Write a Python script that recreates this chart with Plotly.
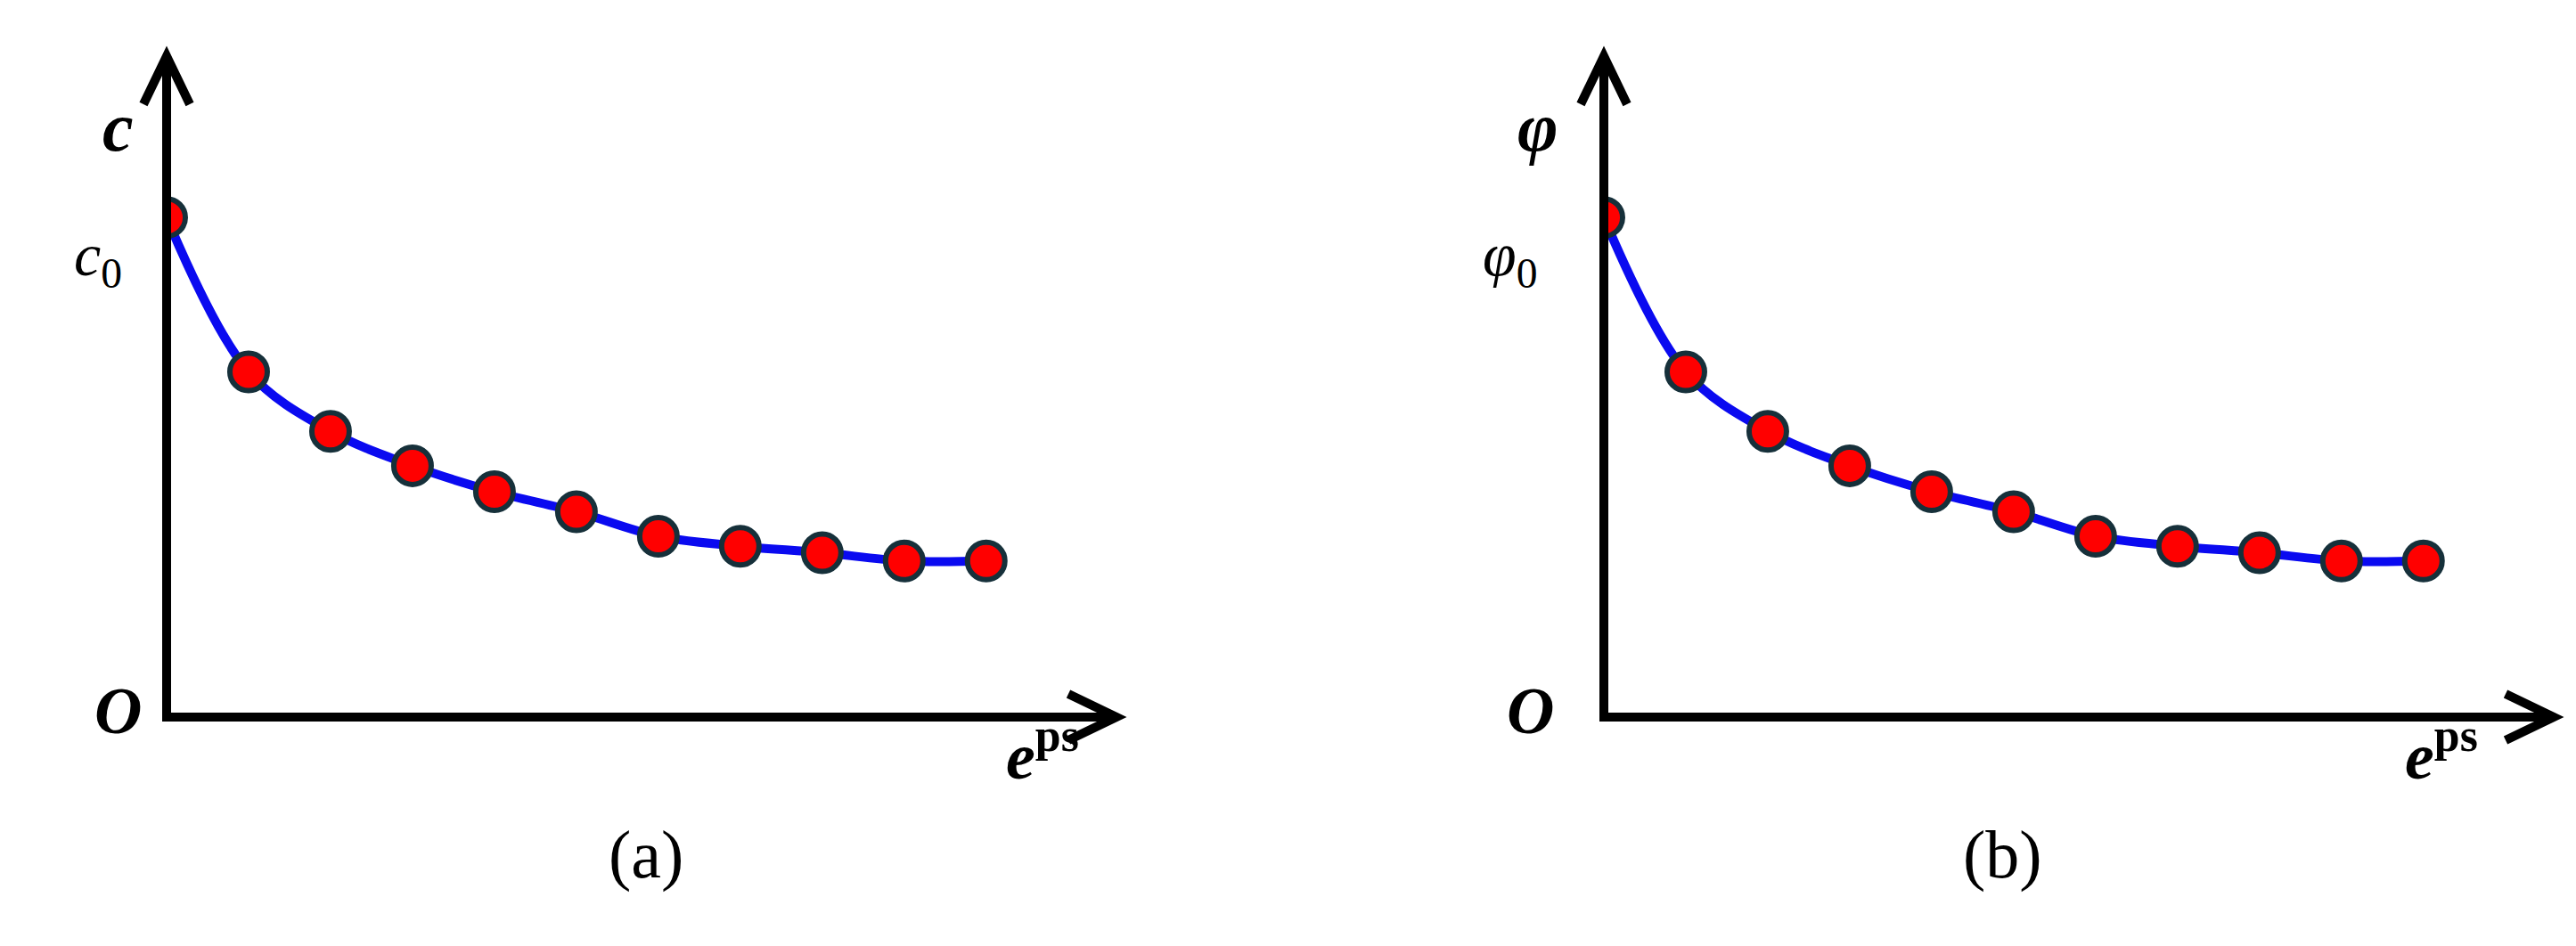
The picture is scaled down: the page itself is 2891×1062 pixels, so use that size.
import plotly.graph_objects as go

W, H = 2891, 1062

# plastic shear strain steps and strength ratios
eps_steps = [0, 1, 2, 3, 4, 5, 6, 7, 8, 9, 10]
cohesion = [1.0, 0.691, 0.572, 0.503, 0.451, 0.411, 0.362, 0.342, 0.329, 0.3125, 0.3125]
friction = [1.0, 0.691, 0.572, 0.503, 0.451, 0.411, 0.362, 0.342, 0.329, 0.3125, 0.3125]

panel_labels = ["(a)", "(b)"]
y_labels = ["<b><i>c</i></b>", "<b><i>φ</i></b>"]
y0_labels = ["<i>c</i><sub>0</sub>", "<i>φ</i><sub>0</sub>"]


def px(x, y):
    return x / W, 1 - y / H


fig = go.Figure()

panels = [(179, cohesion, "x", "y"), (1792, friction, "x2", "y2")]
shapes = []
annotations = []
for i, (ox, vals, xa, ya) in enumerate(panels):
    fig.add_trace(go.Scatter(
        x=eps_steps, y=vals, xaxis=xa, yaxis=ya, mode="lines+markers",
        line=dict(color="#0a0af0", width=10, shape="spline", smoothing=1.0),
        marker=dict(color="#ff0000", size=42, line=dict(color="#16303a", width=6)),
        showlegend=False,
    ))
    oy, top, tip = 797, 55, ox + 1066
    # axis lines
    for (x0, y0, x1, y1) in [(ox, oy + 5, ox, top + 6), (ox - 5, oy, tip - 6, oy)]:
        a, b = px(x0, y0)
        c, d = px(x1, y1)
        shapes.append(dict(type="line", xref="paper", yref="paper", x0=a, y0=b, x1=c, y1=d,
                           line=dict(color="black", width=10)))
    # arrow chevrons
    for pts in [[(ox - 26, top + 54), (ox, top), (ox + 26, top + 54)],
                [(tip - 54, oy - 26), (tip, oy), (tip - 54, oy + 26)]]:
        p = [px(*q) for q in pts]
        path = "M %f,%f L %f,%f L %f,%f" % (p[0][0], p[0][1], p[1][0], p[1][1], p[2][0], p[2][1])
        shapes.append(dict(type="path", xref="paper", yref="paper", path=path,
                           line=dict(color="black", width=10)))
    texts = [
        (ox - 74, 89, y_labels[i], 78, "Liberation Serif"),
        (ox - 106, 238, y0_labels[i], 68, "Liberation Serif"),
        (ox - 83, 833, "<b><i>O</i></b>", 74, "Liberation Serif"),
        (ox + 983, 884, "<b><i>e</i><sup>ps</sup></b>", 74, "Liberation Serif"),
        (ox + 494, 996, panel_labels[i], 76, "Liberation Serif"),
    ]
    for (tx, ty, t, s, f) in texts:
        a, b = px(tx, ty)
        annotations.append(dict(x=a, y=b, xref="paper", yref="paper", text=t, showarrow=False,
                                font=dict(size=s, family=f, color="black")))

ax_common = dict(visible=False, showgrid=False, zeroline=False, fixedrange=True)
fig.update_layout(
    width=W, height=H, margin=dict(l=0, r=0, t=0, b=0),
    plot_bgcolor="white", paper_bgcolor="white",
    xaxis=dict(domain=[179 / W, 1245 / W], range=[0, 11.59], **ax_common),
    yaxis=dict(domain=[1 - 797 / H, 1 - 55 / H], range=[0, 1.323], **ax_common),
    xaxis2=dict(domain=[1792 / W, 2858 / W], range=[0, 11.59], anchor="y2", **ax_common),
    yaxis2=dict(domain=[1 - 797 / H, 1 - 55 / H], range=[0, 1.323], anchor="x2", **ax_common),
    shapes=shapes, annotations=annotations,
)

fig.write_html("out.html")
